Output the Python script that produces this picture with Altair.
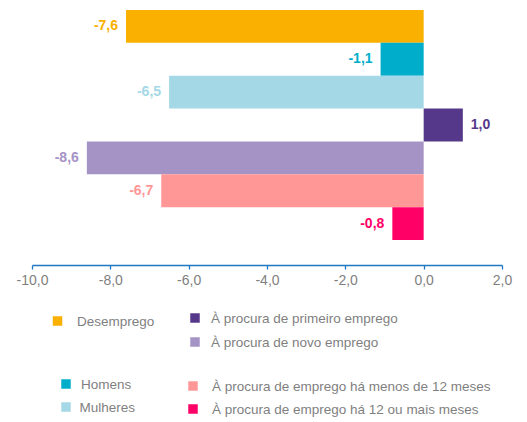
import altair as alt
import pandas as pd

categories = [
    "Desemprego",
    "Homens",
    "Mulheres",
    "À procura de primeiro emprego",
    "À procura de novo emprego",
    "À procura de emprego há menos de 12 meses",
    "À procura de emprego há 12 ou mais meses",
]
values = [-7.6, -1.1, -6.5, 1.0, -8.6, -6.7, -0.8]
colors = ["#F9B000", "#00AECB", "#A5D8E6", "#55388A", "#A593C5", "#FF9797", "#FF0066"]
labels = ["-7,6", "-1,1", "-6,5", "1,0", "-8,6", "-6,7", "-0,8"]
x_ticks = [-10, -8, -6, -4, -2, 0, 2]

df = pd.DataFrame({"cat": categories, "val": values, "lab": labels})

W, H = 470, 257
FONT = "Liberation Sans"
AXIS_BLUE = "#1F78C1"
color_scale = alt.Scale(domain=categories, range=colors)
x_scale = alt.Scale(domain=[-10, 2], nice=False, zero=False)
y_scale = alt.Scale(domain=categories, paddingInner=0, paddingOuter=0.41, align=0.074)

x_axis = alt.Axis(values=x_ticks, title=None, grid=False, domainColor=AXIS_BLUE,
                  tickColor=AXIS_BLUE, tickSize=4, domainWidth=1.3, tickWidth=1.3,
                  domainOpacity=1, tickOpacity=1,
                  labelColor="#7F7F7F", labelFont=FONT, labelFontSize=14,
                  labelPadding=4, labelFlush=False, labelOverlap=False,
                  labelExpr="replace(replace(format(datum.value, '.1f'), '.', ','), '\u2212', '-')")

bars = alt.Chart(df).mark_bar().encode(
    x=alt.X("val:Q", scale=x_scale, axis=x_axis),
    x2=alt.datum(0),
    y=alt.Y("cat:N", scale=y_scale, axis=None, sort=categories),
    color=alt.Color("cat:N", scale=color_scale, legend=None),
)

neg_text = alt.Chart(df).transform_filter("datum.val < 0").mark_text(
    align="right", baseline="middle", dx=-8, fontWeight="bold", fontSize=14,
    font=FONT).encode(
    x=alt.X("val:Q", scale=x_scale, axis=x_axis),
    y=alt.Y("cat:N", scale=y_scale, sort=categories, axis=None),
    text="lab:N",
    color=alt.Color("cat:N", scale=color_scale, legend=None),
)
pos_text = alt.Chart(df).transform_filter("datum.val >= 0").mark_text(
    align="left", baseline="middle", dx=8, fontWeight="bold", fontSize=14,
    font=FONT).encode(
    x=alt.X("val:Q", scale=x_scale, axis=x_axis),
    y=alt.Y("cat:N", scale=y_scale, sort=categories, axis=None),
    text="lab:N",
    color=alt.Color("cat:N", scale=color_scale, legend=None),
)

# legend layout (plot-area pixel coordinates): square center x, y, text x
legend_layout = [
    (25.5, 313, 45),
    (34, 376, 49),
    (34, 399, 47.5),
    (163, 310, 179),
    (163, 334, 179),
    (161, 378, 180),
    (161, 401, 180),
]

layers = [bars, neg_text, pos_text]
one = pd.DataFrame({"a": [0]})
for (sx, sy, tx), name, col in zip(legend_layout, categories, colors):
    layers.append(alt.Chart(one).mark_square(size=90, color=col, opacity=1).encode(
        x=alt.value(sx), y=alt.value(sy)))
    layers.append(alt.Chart(one).mark_text(
        align="left", baseline="middle", fontSize=13.5, color="#7F7F7F",
        font=FONT, text=name).encode(
        x=alt.value(tx), y=alt.value(sy + 1)))

chart = alt.layer(*layers).properties(
    width=W, height=H,
    autosize=alt.AutoSizeParams(type="none"),
    padding={"left": 24, "top": 0, "right": 17, "bottom": 155},
).configure_view(stroke=None).configure_axis(domainColor=AXIS_BLUE, tickColor=AXIS_BLUE)

chart.save("out.html", embed_options={"renderer": "svg", "actions": False})
